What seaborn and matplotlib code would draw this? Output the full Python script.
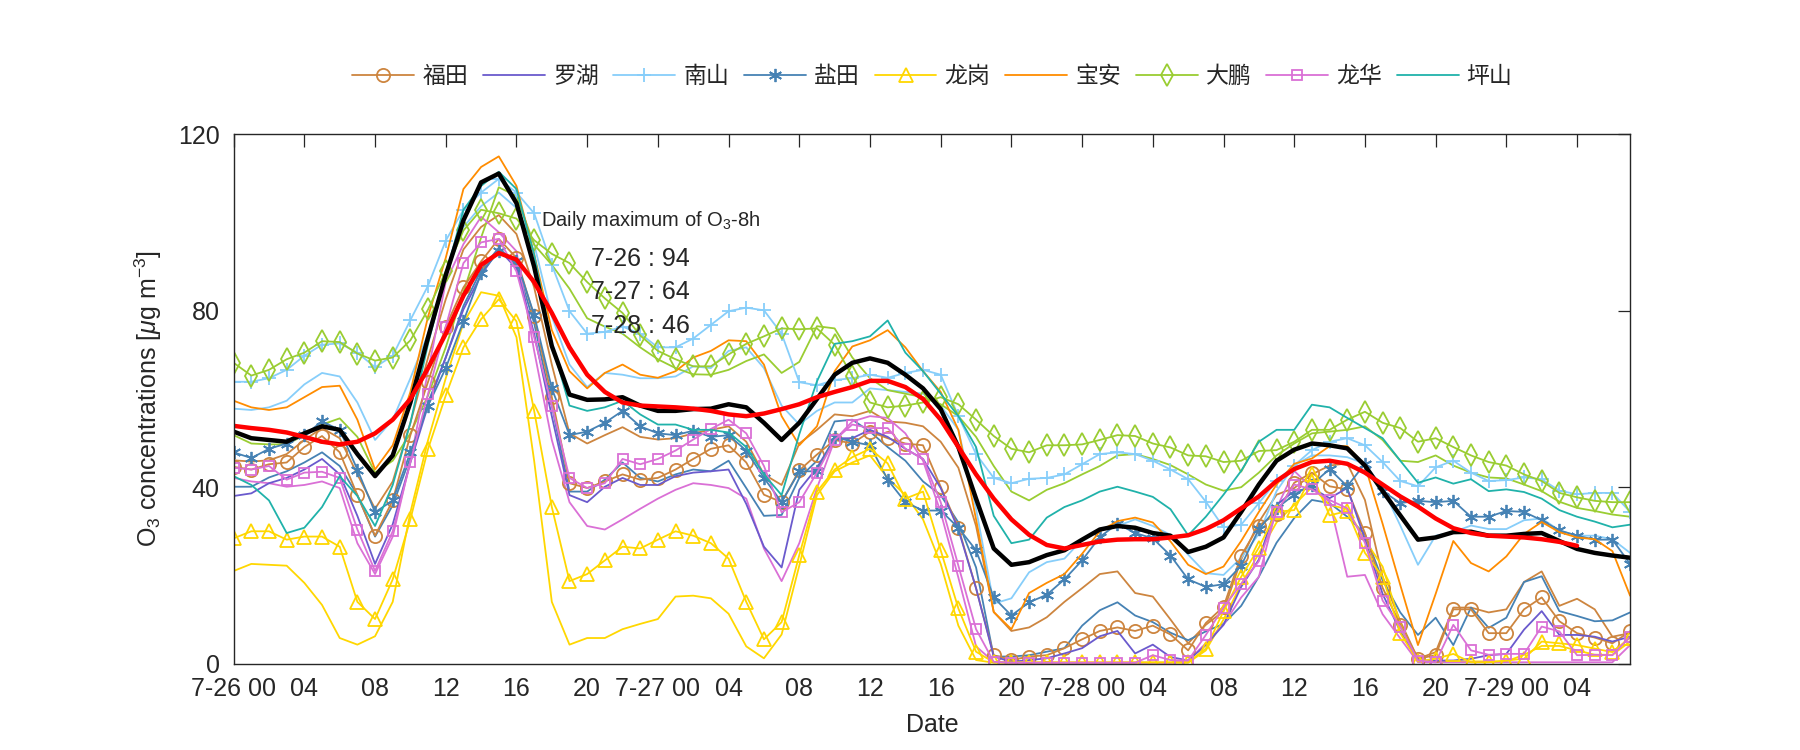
import matplotlib
matplotlib.use("Agg")
import matplotlib.pyplot as plt
from matplotlib.lines import Line2D
import seaborn as sns
import numpy as np

# hourly O3 (ug m-3), 7-26 00 to 7-29 07
hours = np.arange(80)

futian_obs = [44.6, 44.0, 45.2, 45.6, 49.1, 51.6, 47.9, 38.2, 29.0, 37.0,
              51.8, 63.9, 76.4, 85.3, 91.2, 96.3, 92.0, 78.7, 60.4, 40.9,
              39.8, 41.3, 42.9, 41.7, 42.1, 44.0, 46.4, 48.7, 49.5, 45.6,
              38.3, 36.6, 43.8, 47.4, 50.7, 49.9, 52.6, 51.1, 49.9, 49.5,
              40.1, 30.8, 17.1, 1.9, 0.8, 1.6, 1.9, 3.5, 5.5, 7.4,
              8.2, 7.4, 8.6, 6.6, 3.0, 9.2, 12.9, 24.5, 31.3, 34.0,
              41.0, 43.3, 40.2, 39.5, 29.6, 17.2, 8.8, 1.1, 1.9, 12.3,
              12.3, 6.9, 6.9, 12.3, 15.0, 9.6, 6.9, 5.9, 4.6, 7.3]
futian_sim = [46.1, 45.8, 46.1, 47.5, 50.7, 53.4, 51.1, 42.9, 35.1, 41.3,
              54.6, 69.4, 82.6, 93.9, 99.0, 101.7, 97.4, 85.3, 67.8, 52.2,
              49.9, 51.8, 53.6, 51.4, 50.8, 51.1, 52.2, 53.0, 53.8, 50.3,
              42.9, 40.5, 49.9, 53.0, 56.5, 56.1, 57.3, 54.9, 54.6, 53.8,
              50.3, 44.4, 31.2, 11.7, 7.4, 8.2, 10.5, 14.0, 17.1, 20.3,
              20.9, 16.0, 15.2, 10.0, 4.6, 8.8, 11.9, 23.6, 32.1, 38.3,
              39.8, 42.9, 44.9, 45.4, 37.1, 19.7, 9.6, 1.1, 2.6, 12.7,
              12.7, 11.6, 12.3, 18.5, 20.9, 13.1, 14.7, 12.3, 6.1, 6.9]
luohu = [38.0, 38.6, 40.9, 42.1, 44.0, 46.4, 42.9, 33.5, 22.6, 31.6,
         45.6, 58.5, 69.4, 80.3, 88.1, 93.9, 89.6, 74.8, 56.1, 38.2,
         36.6, 40.1, 42.1, 40.5, 40.5, 42.5, 43.3, 43.6, 44.0, 36.2,
         26.5, 21.8, 39.4, 44.4, 51.1, 51.1, 53.0, 51.4, 48.7, 46.4,
         39.8, 30.4, 17.1, 1.6, 0.4, 0.8, 1.2, 2.3, 3.5, 6.2,
         7.4, 2.3, 4.3, 1.5, 0.7, 4.2, 8.8, 17.4, 23.6, 36.0,
         39.1, 39.8, 37.5, 39.8, 28.2, 15.8, 7.3, 0.7, 0.7, 0.7,
         1.1, 1.9, 2.2, 7.7, 11.9, 6.5, 6.5, 6.1, 5.0, 6.1]
nanshan_obs = [63.9, 63.9, 64.7, 66.6, 69.8, 72.3, 72.6, 70.5, 67.2, 69.8,
               77.9, 85.7, 95.9, 102.9, 106.8, 109.9, 106.8, 102.1, 90.4, 79.9,
               74.8, 75.2, 76.4, 74.8, 71.7, 71.7, 73.7, 76.8, 79.9, 80.7,
               80.1, 74.8, 63.8, 63.1, 64.3, 64.7, 65.5, 64.8, 65.9, 66.6,
               65.5, 56.1, 47.5, 42.1, 40.9, 41.9, 42.1, 42.9, 45.2, 47.5,
               47.9, 47.5, 46.0, 44.0, 41.8, 36.7, 30.9, 31.5, 36.4, 41.4,
               44.9, 48.4, 50.3, 51.1, 49.5, 45.7, 41.4, 40.2, 44.5, 46.0,
               43.3, 41.4, 41.6, 42.2, 41.8, 39.2, 38.4, 38.7, 38.7, 34.4]
nanshan_sim = [57.8, 57.5, 58.1, 59.6, 63.3, 65.9, 65.1, 59.2, 50.7, 55.3,
               64.7, 74.8, 88.1, 99.0, 103.7, 106.8, 103.3, 95.1, 78.7, 67.8,
               62.7, 65.9, 65.5, 64.7, 64.7, 65.1, 67.4, 67.0, 70.9, 71.7,
               67.0, 58.5, 54.2, 57.3, 59.2, 59.2, 62.4, 62.0, 61.6, 61.2,
               58.5, 53.0, 35.1, 13.6, 14.8, 20.7, 23.0, 23.8, 28.1, 30.4,
               31.2, 32.7, 31.2, 29.2, 24.7, 20.5, 20.1, 24.0, 29.4, 39.1,
               44.9, 47.2, 47.2, 46.8, 45.3, 39.8, 31.3, 22.4, 29.0, 29.8,
               31.3, 30.5, 30.5, 32.5, 32.9, 30.2, 29.0, 29.0, 28.2, 25.1]
yantian_obs = [47.9, 46.6, 48.7, 49.9, 51.8, 54.9, 53.0, 44.0, 34.3, 37.0,
               47.9, 58.5, 67.0, 77.6, 88.5, 93.5, 91.3, 79.1, 62.4, 51.8,
               52.6, 54.6, 57.3, 53.8, 52.2, 51.8, 52.8, 51.4, 51.8, 48.3,
               42.1, 36.6, 43.6, 43.6, 51.4, 50.3, 49.5, 41.7, 36.6, 34.7,
               34.7, 30.8, 25.7, 15.0, 10.9, 13.9, 15.6, 19.1, 23.4, 28.7,
               31.7, 29.6, 28.4, 24.5, 19.1, 17.4, 18.0, 22.2, 30.5, 35.2,
               38.3, 40.6, 44.1, 40.2, 45.3, 39.1, 36.4, 36.9, 36.6, 36.9,
               33.3, 33.3, 34.6, 34.4, 32.5, 30.2, 29.0, 28.1, 28.1, 22.6]
yantian_sim = [40.1, 40.1, 42.2, 43.6, 45.6, 47.9, 44.8, 38.2, 28.8, 35.9,
               46.8, 59.2, 69.4, 81.1, 89.2, 94.3, 90.4, 77.2, 58.5, 39.0,
               39.0, 41.7, 45.6, 42.1, 41.3, 42.9, 44.0, 43.6, 46.0, 39.8,
               33.5, 33.7, 42.1, 46.0, 54.9, 55.3, 52.6, 49.1, 46.0, 41.3,
               38.2, 32.0, 21.8, 1.6, 1.6, 1.9, 2.7, 3.5, 8.6, 12.1,
               13.9, 10.9, 9.4, 7.0, 5.3, 7.3, 9.0, 13.1, 19.7, 27.4,
               33.0, 37.1, 36.4, 33.3, 29.4, 18.9, 11.6, 6.5, 10.4, 4.2,
               12.7, 8.1, 10.4, 18.5, 19.8, 11.9, 10.8, 9.6, 9.8, 11.6]
longgang_obs = [28.4, 30.0, 30.0, 28.1, 28.8, 28.8, 26.5, 14.0, 10.1, 19.1,
                32.7, 48.7, 60.8, 71.7, 78.1, 82.6, 77.6, 57.3, 35.5, 18.7,
                20.3, 23.4, 26.5, 26.1, 28.1, 30.0, 29.0, 27.3, 23.8, 14.0,
                5.5, 9.4, 24.6, 39.0, 44.0, 46.8, 48.7, 45.4, 37.4, 39.0,
                25.7, 12.5, 2.7, 0.3, 0.3, 0.3, 0.3, 0.3, 0.3, 0.3,
                0.3, 0.3, 0.3, 0.3, 0.3, 3.4, 11.9, 19.7, 26.3, 34.4,
                34.8, 42.9, 33.6, 34.6, 25.1, 19.7, 6.9, 0.5, 1.1, 2.2,
                0.3, 0.3, 0.7, 1.1, 5.0, 4.6, 4.2, 3.4, 2.6, 5.9]
longgang_sim = [21.0, 22.6, 22.4, 22.2, 18.3, 13.3, 5.8, 4.3, 6.2, 14.0,
                34.3, 50.7, 64.7, 77.2, 84.2, 83.4, 74.0, 46.0, 14.0, 4.3,
                5.8, 5.8, 7.8, 9.0, 10.1, 15.2, 15.4, 14.8, 11.3, 3.9,
                1.2, 6.6, 22.2, 38.2, 43.6, 45.6, 47.2, 42.1, 38.2, 32.7,
                22.6, 8.6, 0.8, 0.2, 0.2, 0.2, 0.2, 0.2, 0.2, 0.2,
                0.2, 0.2, 0.2, 0.2, 0.2, 3.0, 10.0, 18.0, 25.0, 32.0,
                36.0, 40.0, 36.0, 35.0, 28.0, 22.0, 9.0, 0.5, 0.5, 0.5,
                0.5, 0.5, 0.5, 2.0, 4.0, 4.0, 3.0, 2.0, 2.0, 5.0]
baoan = [59.6, 58.1, 57.5, 58.1, 60.4, 62.7, 63.0, 55.3, 44.0, 49.5,
         61.6, 78.7, 92.0, 107.6, 112.6, 115.0, 108.3, 92.8, 75.6, 66.3,
         62.4, 65.9, 67.8, 65.5, 64.8, 66.3, 69.4, 70.9, 73.3, 73.1,
         67.8, 56.1, 49.5, 53.8, 66.3, 71.9, 73.3, 75.6, 71.7, 66.3,
         61.6, 53.0, 32.7, 11.7, 7.8, 16.0, 18.3, 20.3, 24.9, 30.0,
         32.3, 33.1, 32.0, 27.7, 22.4, 20.3, 22.0, 27.8, 34.4, 40.6,
         45.3, 46.5, 49.3, 49.3, 44.9, 31.7, 17.8, 4.2, 15.8, 27.8,
         22.8, 20.9, 24.3, 29.4, 32.1, 29.8, 28.6, 28.2, 25.5, 15.4]
dapeng_obs = [68.2, 65.3, 66.6, 69.0, 70.5, 73.1, 72.9, 70.3, 68.7, 69.4,
              73.3, 80.3, 88.9, 98.2, 102.9, 102.1, 100.9, 96.0, 92.9, 90.8,
              86.5, 82.8, 79.5, 74.4, 70.9, 69.0, 67.4, 67.4, 70.1, 72.5,
              74.2, 76.0, 75.8, 76.0, 72.3, 65.1, 59.2, 58.1, 58.5, 59.2,
              60.4, 58.8, 55.3, 51.6, 48.7, 47.9, 49.5, 49.5, 49.7, 50.7,
              51.8, 51.6, 49.9, 49.0, 47.2, 47.0, 45.7, 46.0, 48.2, 48.4,
              50.3, 53.0, 53.0, 55.3, 57.1, 54.6, 53.4, 50.3, 51.1, 49.1,
              47.2, 45.7, 44.9, 42.9, 41.4, 38.7, 37.7, 36.9, 36.6, 36.6]
dapeng_sim = [51.8, 49.9, 49.7, 49.7, 51.8, 54.2, 55.6, 51.4, 43.3, 46.0,
              52.2, 60.8, 71.7, 84.2, 96.6, 108.0, 106.0, 95.0, 90.4, 85.0,
              78.3, 76.4, 74.8, 71.7, 69.0, 67.0, 65.6, 65.5, 66.6, 68.6,
              70.1, 65.9, 68.4, 76.5, 76.0, 69.4, 64.7, 62.0, 61.2, 60.4,
              58.8, 56.1, 51.4, 44.8, 39.0, 37.0, 39.4, 40.9, 42.9, 44.8,
              47.2, 47.5, 46.4, 45.0, 42.9, 40.6, 39.2, 40.0, 43.3, 47.2,
              49.9, 52.2, 52.6, 53.0, 53.8, 50.7, 46.0, 45.7, 47.2, 44.9,
              43.3, 42.2, 42.0, 40.6, 39.1, 36.7, 35.3, 34.6, 33.8, 33.3]
longhua_obs = [44.4, 44.0, 44.8, 41.7, 43.3, 43.5, 42.1, 30.4, 21.0, 30.0,
               45.6, 61.2, 76.4, 90.8, 95.5, 96.3, 88.9, 74.0, 58.5, 42.1,
               39.8, 40.9, 46.4, 45.2, 46.4, 48.3, 50.8, 53.2, 55.3, 52.2,
               44.8, 34.3, 36.6, 43.3, 50.7, 54.2, 53.4, 53.4, 48.7, 46.4,
               36.6, 22.2, 7.8, 0.4, 0.2, 0.2, 0.2, 0.2, 0.2, 0.2,
               0.2, 0.2, 1.9, 0.8, 0.7, 6.5, 12.7, 18.1, 23.2, 34.4,
               40.6, 39.5, 37.1, 35.2, 27.4, 14.3, 8.4, 0.7, 0.3, 8.8,
               3.0, 2.0, 2.2, 2.2, 8.4, 7.3, 1.9, 2.0, 1.9, 6.1]
longhua_sim = [42.1, 41.3, 40.9, 40.1, 40.5, 41.3, 39.8, 27.3, 20.3, 28.8,
               46.0, 66.3, 86.5, 95.1, 101.3, 97.8, 93.5, 70.9, 50.7, 36.6,
               31.2, 30.4, 32.7, 35.1, 37.4, 39.4, 40.9, 40.5, 39.8, 37.4,
               26.1, 18.7, 27.3, 39.8, 50.7, 54.9, 56.1, 55.7, 52.2, 46.0,
               34.3, 19.5, 3.9, 0.4, 0.2, 0.2, 0.2, 0.2, 0.2, 0.2,
               0.2, 0.2, 0.2, 0.2, 0.7, 4.6, 8.8, 15.0, 19.7, 35.2,
               43.7, 39.8, 36.7, 19.7, 20.1, 11.2, 5.7, 0.3, 0.3, 0.3,
               0.3, 0.3, 0.3, 0.3, 0.3, 0.3, 0.3, 0.3, 0.3, 4.2]
pingshan = [42.5, 40.5, 37.0, 29.6, 30.8, 35.5, 42.5, 38.0, 31.2, 40.5,
            54.6, 72.5, 88.1, 102.9, 108.3, 111.5, 107.6, 92.8, 72.5, 58.5,
            57.3, 58.1, 59.6, 56.5, 54.2, 54.2, 53.0, 53.0, 52.4, 49.1,
            42.9, 38.2, 52.0, 64.0, 72.5, 73.1, 74.2, 77.8, 70.5, 66.3,
            61.2, 56.1, 49.1, 33.5, 27.3, 28.1, 33.1, 35.5, 37.0, 39.0,
            40.1, 39.0, 37.8, 35.0, 29.1, 33.3, 38.3, 43.7, 50.3, 53.0,
            53.0, 58.7, 58.1, 55.7, 53.4, 51.1, 46.0, 41.0, 42.2, 40.8,
            41.8, 39.1, 39.5, 38.9, 37.4, 34.8, 33.3, 32.2, 30.9, 31.5]
black_line = [52.6, 51.1, 50.7, 50.3, 52.2, 53.8, 53.0, 47.5, 42.5, 47.2,
              59.2, 74.0, 88.1, 100.5, 109.1, 111.1, 104.4, 90.0, 72.0, 61.0,
              59.8, 59.9, 60.4, 58.5, 57.3, 57.3, 57.7, 57.8, 58.8, 58.1,
              54.6, 50.7, 54.6, 60.0, 65.5, 68.2, 69.2, 68.2, 65.5, 62.4,
              57.7, 49.1, 37.4, 26.1, 22.4, 23.0, 24.6, 25.7, 28.1, 30.4,
              31.2, 30.8, 29.6, 29.0, 25.3, 26.5, 28.6, 34.4, 40.6, 46.0,
              48.5, 49.9, 49.5, 48.8, 44.9, 39.1, 33.6, 28.1, 28.6, 29.8,
              29.9, 29.0, 29.0, 29.4, 29.6, 27.8, 26.0, 25.1, 24.5, 24.0]
red_line = [53.9, 53.4, 53.0, 52.4, 51.4, 50.3, 49.7, 50.3, 52.2, 55.3,
            60.0, 67.0, 74.8, 83.4, 90.4, 93.1, 91.6, 86.5, 79.5, 71.7,
            65.5, 61.6, 59.2, 58.5, 58.3, 58.1, 57.8, 57.3, 56.5, 56.1,
            56.7, 57.7, 58.8, 60.4, 61.6, 62.7, 64.1, 64.1, 62.7, 60.0,
            55.3, 49.1, 42.9, 37.4, 32.7, 29.2, 26.9, 26.1, 26.9, 27.7,
            28.1, 28.2, 28.2, 28.6, 29.1, 30.5, 32.5, 35.2, 37.9, 41.4,
            44.1, 45.7, 46.0, 45.3, 43.3, 40.6, 37.9, 35.6, 32.9, 30.7,
            29.6, 29.0, 28.8, 28.6, 28.2, 27.6, 26.7, np.nan, np.nan, np.nan]

stations = ["福田", "罗湖", "南山", "盐田", "龙岗", "宝安", "大鹏", "龙华", "坪山"]
colors = ["#CD853F", "#6A5ACD", "#87CEFA", "#4682B4", "#FFD700",
          "#FF8C00", "#9ACD32", "#DA70D6", "#20B2AA"]
markers = ["o", None, "+", (6, 2, 0), "^", None, "d", "s", None]
msizes = [9.5, 0, 10, 9.5, 10.5, 0, 11, 6.5, 0]

obs = [futian_obs, luohu, nanshan_obs, yantian_obs, longgang_obs,
       baoan, dapeng_obs, longhua_obs, pingshan]
sim = [futian_sim, None, nanshan_sim, yantian_sim, longgang_sim,
       None, dapeng_sim, longhua_sim, None]

daily_max = [("7-26", 94), ("7-27", 64), ("7-28", 46)]

sns.set_style("white")
plt.rcParams["font.family"] = ["Liberation Sans", "Noto Sans CJK SC", "DejaVu Sans"]
plt.rcParams["mathtext.fontset"] = "custom"
plt.rcParams["mathtext.rm"] = "Liberation Sans"
plt.rcParams["mathtext.it"] = "Liberation Sans:italic"

fig = plt.figure(figsize=(18, 7.5), dpi=100)
ax = fig.add_axes([0.1298, 0.1152, 0.7758, 0.7057])

lw = 1.3
# plain companion lines first
for s, c in zip(sim, colors):
    if s is not None:
        sns.lineplot(x=hours, y=s, ax=ax, color=c, linewidth=lw)

for s, c, m, ms in zip(obs, colors, markers, msizes):
    if m is None:
        sns.lineplot(x=hours, y=s, ax=ax, color=c, linewidth=lw)
    else:
        sns.lineplot(x=hours, y=s, ax=ax, color=c, linewidth=lw, marker=m,
                     markersize=ms, markerfacecolor="none",
                     markeredgecolor=c, markeredgewidth=1.3)

sns.lineplot(x=hours, y=black_line, ax=ax, color="black", linewidth=3.2)
sns.lineplot(x=hours[:77], y=red_line[:77], ax=ax, color="red", linewidth=3.2)

ax.set_xlim(0, 79)
ax.set_ylim(0, 120)
ax.set_yticks([0, 40, 80, 120])
xt = list(range(0, 80, 4))
xl = [f"7-{26 + h // 24} 00" if h % 24 == 0 else f"{h % 24:02d}" for h in xt]
ax.set_xticks(xt)
ax.set_xticklabels(xl)
ax.tick_params(direction="in", top=True, right=True, length=9, width=0.9,
               labelsize=18, pad=10, colors="#262626")
for sp in ax.spines.values():
    sp.set_linewidth(1.0)
    sp.set_color("#262626")

ax.set_xlabel("Date", fontsize=18, color="#262626", labelpad=8)
ax.set_ylabel("O$_3$ concentrations [$\\mu$g m$^{-3}$]", fontsize=18,
              color="#262626", labelpad=10)

ax.text(23.6, 100.5, "Daily maximum of O$_3$-8h", fontsize=14.5, ha="center", va="center")
for i, (d, v) in enumerate(daily_max):
    ax.text(23.0, 91.8 - 7.6 * i, f"{d} : {v}", fontsize=18, ha="center", va="center")

handles = []
for c, m, ms in zip(colors, markers, msizes):
    handles.append(Line2D([0], [0], color=c, linewidth=lw, marker=m if m else None,
                          markersize=ms, markerfacecolor="none",
                          markeredgecolor=c, markeredgewidth=1.3))
fig.legend(handles, stations, loc="center", bbox_to_anchor=(0.518, 0.898),
           ncol=9, frameon=False, fontsize=16.5, handlelength=2.7,
           handletextpad=0.35, columnspacing=0.65)

fig.savefig("out.png", dpi=100)
